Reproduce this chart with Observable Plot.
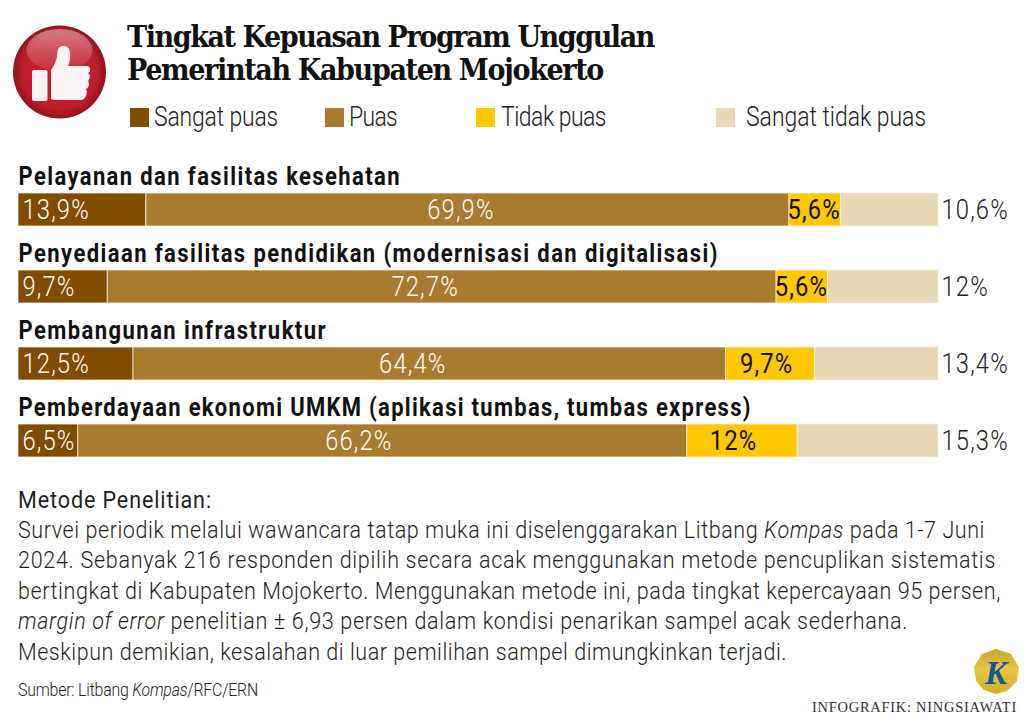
<!DOCTYPE html>
<html lang="id">
<head>
<meta charset="utf-8">
<script src="https://cdn.jsdelivr.net/npm/d3@7"></script>
<script src="https://cdn.jsdelivr.net/npm/@observablehq/plot@0.6"></script>
<style>
html,body{margin:0;padding:0;background:#fff;}
body{width:1024px;height:724px;position:relative;overflow:hidden;font-family:Roboto,sans-serif;color:#1a1a1a;}
.abs{position:absolute;white-space:nowrap;transform-origin:0 50%;}
.title{font-family:"DejaVu Serif";font-weight:700;font-size:30px;line-height:34px;color:#111;}
.swatch{position:absolute;width:19px;height:19px;top:108px;}
.leg{font-weight:300;font-size:27px;top:102px;line-height:30px;color:#222;}
.body{font-weight:300;font-size:24.5px;line-height:30px;color:#1f1f1f;left:18px;}
.head{font-weight:400;}
.src{font-weight:300;font-size:18px;line-height:20px;left:18px;top:680px;color:#222;}
.credit{font-family:"Liberation Serif";font-size:14.5px;line-height:16px;left:812px;top:699px;color:#333;}
#chart{position:absolute;left:0;top:160px;}
</style>
</head>
<body>
<svg class="abs" style="left:8px;top:20px" width="104" height="104" viewBox="8 20 104 104">
  <defs>
    <radialGradient id="red" cx="50%" cy="50%" r="50%">
      <stop offset="0%" stop-color="#c9202c"/><stop offset="80%" stop-color="#be1e2d"/><stop offset="100%" stop-color="#8e141e"/>
    </radialGradient>
    <linearGradient id="gloss" x1="0" y1="0" x2="0" y2="1">
      <stop offset="0%" stop-color="#fff" stop-opacity=".42"/><stop offset="100%" stop-color="#fff" stop-opacity=".06"/>
    </linearGradient>
  </defs>
  <circle cx="59.5" cy="72" r="46.5" fill="url(#red)"/>
  <ellipse cx="59.5" cy="50" rx="33" ry="21" fill="url(#gloss)"/>
  <rect x="32" y="70" width="15.5" height="31" rx="2" fill="#f9f4f4"/>
  <path d="M51 99L51 70C54 66 57 60 57.5 52C58 46 62 46 65 46C70 47 71 54 70 60L68 66L87 66C91 66 91 72 88 73C91 75 90 80 88 81C90 83 89 88 86 89C88 92 86 100 81 100L54 100Z" fill="#f9f4f4"/>
</svg>

<div class="abs title fit" data-w="527" data-sx="0.9" style="left:127px;top:20px">Tingkat Kepuasan Program Unggulan</div>
<div class="abs title fit" data-w="476" data-sx="0.9" style="left:127px;top:53px">Pemerintah Kabupaten Mojokerto</div>

<div id="legend"></div>
<div id="chart"></div>

<div class="abs body head fit" data-w="194" data-sx="0.88" style="top:485px">Metode Penelitian:</div>
<div class="abs body fit" data-w="967" data-sx="0.88" style="top:515px">Survei periodik melalui wawancara tatap muka ini diselenggarakan Litbang <i>Kompas</i> pada 1-7 Juni</div>
<div class="abs body fit" data-w="978" data-sx="0.88" style="top:545px">2024. Sebanyak 216 responden dipilih secara acak menggunakan metode pencuplikan sistematis</div>
<div class="abs body fit" data-w="983" data-sx="0.88" style="top:576px">bertingkat di Kabupaten Mojokerto. Menggunakan metode ini, pada tingkat kepercayaan 95 persen,</div>
<div class="abs body fit" data-w="890" data-sx="0.88" style="top:606px"><i>margin of error</i> penelitian ± 6,93 persen dalam kondisi penarikan sampel acak sederhana.</div>
<div class="abs body fit" data-w="769" data-sx="0.88" style="top:637px">Meskipun demikian, kesalahan di luar pemilihan sampel dimungkinkan terjadi.</div>

<div class="abs src fit" data-w="240" data-sx="0.88">Sumber: Litbang <i>Kompas</i>/RFC/ERN</div>

<svg class="abs" style="left:970px;top:646px" width="52" height="52" viewBox="970 646 52 52">
  <defs>
    <linearGradient id="gold" x1="0" y1="0" x2="0" y2="1">
      <stop offset="0%" stop-color="#c9a227"/><stop offset="45%" stop-color="#eac842"/><stop offset="100%" stop-color="#d4ab2c"/>
    </linearGradient>
  </defs>
  <polygon points="996,649 1011,654 1019,667 1017,681 1007,691 996,694 984,690 976,681 974,667 982,654" fill="url(#gold)"/>
  <text x="996" y="684" text-anchor="middle" font-family="Liberation Serif" font-weight="700" font-style="italic" font-size="33" fill="#0f5a9c">K</text>
</svg>
<div class="abs credit fit" data-w="205" data-sx="1">INFOGRAFIK: NINGSIAWATI</div>

<script>
const categories = [
  "Pelayanan dan fasilitas kesehatan",
  "Penyediaan fasilitas pendidikan (modernisasi dan digitalisasi)",
  "Pembangunan infrastruktur",
  "Pemberdayaan ekonomi UMKM (aplikasi tumbas, tumbas express)"
];
const seriesNames = ["Sangat puas", "Puas", "Tidak puas", "Sangat tidak puas"];
const seriesColors = ["#7f4c00", "#a87b2f", "#ffc800", "#e6d8b4"];
const sangatPuas = [13.9, 9.7, 12.5, 6.5];
const puas = [69.9, 72.7, 64.4, 66.2];
const tidakPuas = [5.6, 5.6, 9.7, 12];
const sangatTidakPuas = [10.6, 12, 13.4, 15.3];

const valuesBySeries = [sangatPuas, puas, tidakPuas, sangatTidakPuas];
const table = seriesNames.flatMap((s, si) =>
  categories.map((c, ci) => ({category: c, row: ci, series: s, value: valuesBySeries[si][ci]})));
const fmt = d => String(d.value).replace(".", ",") + "%";
const stackOpts = {x: "value", y: "category", z: "series", order: seriesNames};
const inSeries = s => table.filter(d => d.series === s);

// Hand placement of the labels, as in the original layout (px offset per row).
const puasDx = [-7, -17, -17, -24];
const tidakDx = [-1, -1, -4, -9];

const chart = Plot.plot({
  width: 1024,
  height: 320,
  marginTop: 0, marginRight: 86, marginBottom: 0, marginLeft: 18,
  style: {background: "transparent", fontFamily: "Roboto"},
  x: {domain: [0, 100], axis: null},
  y: {domain: categories, range: [33, 298], paddingInner: 0.573, paddingOuter: 0, align: 0, axis: null},
  color: {domain: seriesNames, range: seriesColors},
  marks: [
    Plot.barX(table, Plot.stackX({...stackOpts, fill: "series", stroke: "#f5efe0", strokeWidth: 0.8})),
    Plot.text(inSeries("Sangat puas"), {
      x: 0, y: "category", text: fmt, textAnchor: "start", dx: 4,
      fill: "#fff", fontWeight: 300, fontSize: 27
    }),
    ...categories.map((c, i) => Plot.text(table.filter(d => d.row === i), Plot.filter(d => d.series === "Puas", Plot.stackX({
      ...stackOpts, text: fmt, dx: puasDx[i], fill: "#fff", fontWeight: 300, fontSize: 27
    })))),
    ...categories.map((c, i) => Plot.text(table.filter(d => d.row === i), Plot.filter(d => d.series === "Tidak puas", Plot.stackX({
      ...stackOpts, text: fmt, dx: tidakDx[i], fill: "#111", fontWeight: 400, fontSize: 27
    })))),
    Plot.text(inSeries("Sangat tidak puas"), {
      x: 100, y: "category", text: fmt, textAnchor: "start", dx: 3,
      fill: "#222", fontWeight: 300, fontSize: 27
    }),
    Plot.text(categories, {
      x: 0, y: d => d, text: d => d, textAnchor: "start", dy: -33,
      fill: "#111", fontSize: 25, fontWeight: 700
    })
  ]
});
document.getElementById("chart").appendChild(chart);

const legendSpots = [[130, 154, 124], [325, 349, 48], [476, 501, 105], [716, 746, 180]];
const legend = document.getElementById("legend");
seriesNames.forEach((s, i) => {
  const [sx, tx, w] = legendSpots[i];
  legend.insertAdjacentHTML("beforeend",
    `<div class="swatch" style="left:${sx}px;background:${seriesColors[i]}"></div>` +
    `<div class="abs leg fit" data-w="${w}" data-sx="0.85" style="left:${tx}px">${s}</div>`);
});

document.querySelectorAll(".fit").forEach(el => {
  const target = +el.dataset.w, sx = +el.dataset.sx;
  const n = el.textContent.length;
  const w = el.getBoundingClientRect().width;
  el.style.letterSpacing = ((target / sx - w) / n).toFixed(3) + "px";
  el.style.transform = `scaleX(${sx})`;
});

// Narrow the chart's type to the tall proportions of the original face.
const squeeze = (t, sx) => t.setAttribute("transform", (t.getAttribute("transform") || "") + ` scale(${sx},1)`);
const rowWidths = [381, 699, 307, 732];
chart.querySelectorAll("text").forEach(t => {
  const i = categories.indexOf(t.textContent);
  if (i >= 0) {
    t.setAttribute("textLength", (rowWidths[i] / 0.88).toFixed(1));
    t.setAttribute("lengthAdjust", "spacing");
  } else {
    t.style.letterSpacing = "1.3px";
  }
  squeeze(t, 0.88);
});
</script>
</body>
</html>
